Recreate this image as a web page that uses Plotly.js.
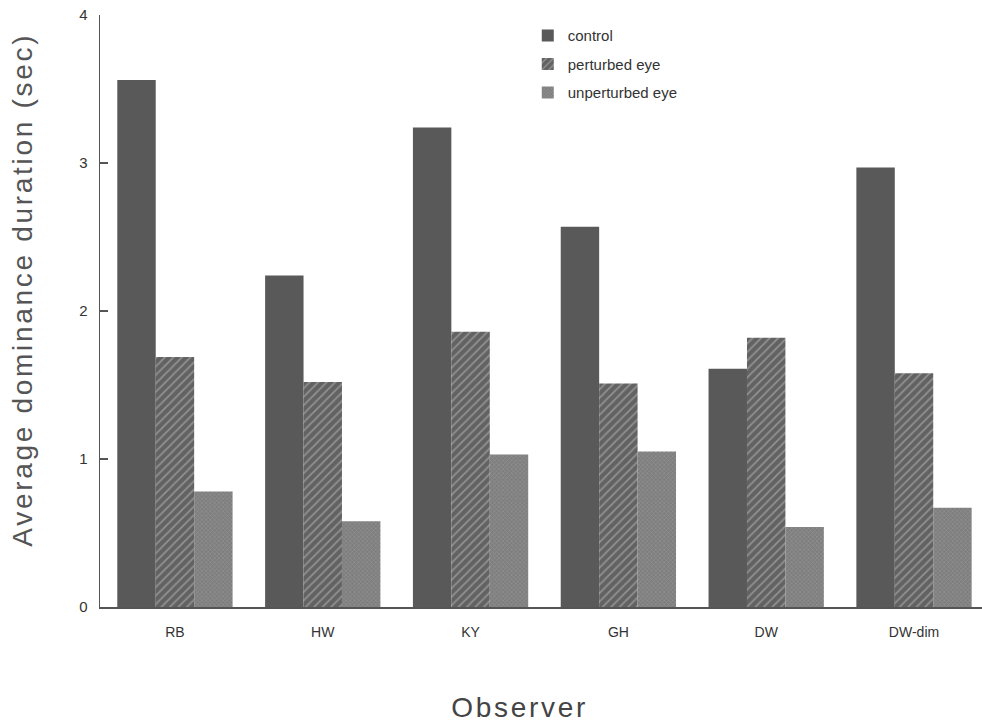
<!DOCTYPE html>
<html>
<head>
<meta charset="utf-8">
<script src="https://cdn.plot.ly/plotly-3.0.1.min.js"></script>
<style>
html,body{margin:0;padding:0;background:#fff;}
#chart{width:982px;height:725px;}
#chart .annotation-text{letter-spacing:2.7px;}
</style>
</head>
<body>
<div id="chart"></div>
<script>
const observers = ["RB", "HW", "KY", "GH", "DW", "DW-dim"];
const control = [3.56, 2.24, 3.24, 2.57, 1.61, 2.97];
const perturbedEye = [1.69, 1.52, 1.86, 1.51, 1.82, 1.58];
const unperturbedEye = [0.78, 0.58, 1.03, 1.05, 0.54, 0.67];
const yTicks = [0, 1, 2, 3, 4];
const xTitle = "Observer";
const yTitle = "Average dominance duration (sec)";

const font = "Liberation Sans, Arial, Helvetica, sans-serif";

const traces = [
  {
    type: "bar", name: "control", x: observers, y: control, legendgroup: "a",
    marker: {color: "#595959", line: {width: 0}}
  },
  {
    type: "bar", name: "perturbed eye", x: observers, y: perturbedEye, legendgroup: "b",
    marker: {color: "#626262", line: {width: 0},
      pattern: {shape: "/", bgcolor: "#626262", fgcolor: "#c0c0c0", size: 6, solidity: 0.3, fillmode: "overlay"}}
  },
  {
    type: "bar", name: "unperturbed eye", x: observers, y: unperturbedEye, legendgroup: "c",
    marker: {color: "#808080", line: {width: 0},
      pattern: {shape: "x", bgcolor: "#7e7e7e", fgcolor: "#a2a2a2", size: 3, solidity: 0.4, fillmode: "overlay"}}
  }
];

const layout = {
  width: 982, height: 725,
  margin: {l: 100, r: 0, t: 15, b: 118},
  paper_bgcolor: "#fff", plot_bgcolor: "#fff",
  barmode: "group", bargap: 0.22, bargroupgap: 0,
  showlegend: true,
  legend: {x: 0.485, y: 0.993, xanchor: "left", yanchor: "top",
    font: {family: font, size: 15, color: "#333"}, tracegroupgap: 6, itemwidth: 30,
    bgcolor: "rgba(0,0,0,0)"},
  xaxis: {
    type: "category", range: [-0.507, 5.46],
    showline: true, linecolor: "#555", linewidth: 1.5,
    ticks: "", showgrid: false, zeroline: false, ticklabelstandoff: 12,
    tickfont: {family: font, size: 14, color: "#333"}
  },
  yaxis: {
    range: [0, 4], tickvals: yTicks, ticktext: yTicks.map(String),
    showline: true, linecolor: "#555", linewidth: 1.5,
    ticks: "inside", ticklen: 8, tickcolor: "#555", tickwidth: 1.5,
    showgrid: false, zeroline: false, ticklabelstandoff: 8,
    tickfont: {family: font, size: 15, color: "#333"}
  },
  annotations: [
    {text: xTitle, xref: "paper", yref: "paper", x: 0.476, y: -0.17, xanchor: "center", yanchor: "middle",
      showarrow: false, font: {family: font, size: 28, color: "#444"}},
    {text: yTitle, xref: "paper", yref: "paper", x: -0.088, y: 0.537, xanchor: "center", yanchor: "middle",
      textangle: -90, showarrow: false, font: {family: font, size: 28, color: "#555"}}
  ]
};

Plotly.newPlot("chart", traces, layout, {displayModeBar: false, staticPlot: true});
</script>
</body>
</html>
